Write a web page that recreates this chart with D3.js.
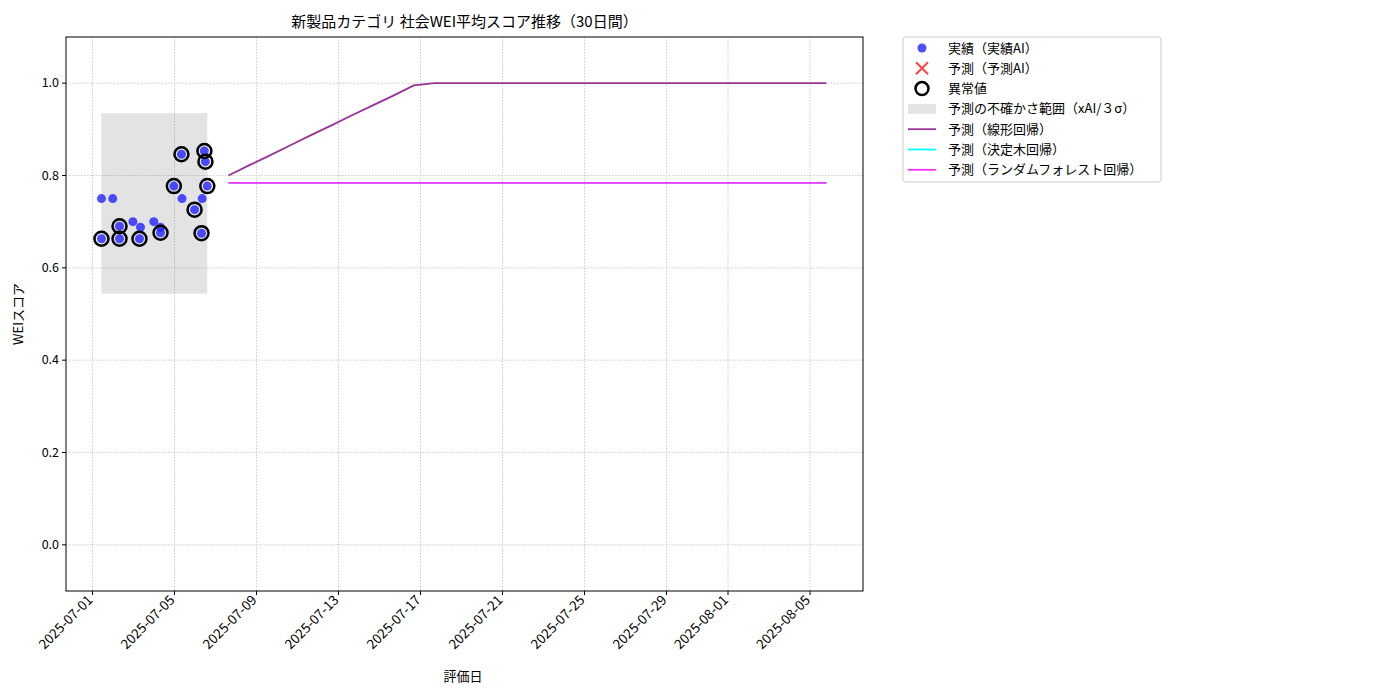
<!DOCTYPE html><html><head><meta charset="utf-8"><script src="https://cdn.jsdelivr.net/npm/d3@7"></script>
<style>body{margin:0;background:#fff;font-family:"Noto Sans CJK JP","DejaVu Sans",sans-serif}</style></head><body><svg id="c" width="1400" height="700"></svg>
<script>
const actualDates=["2025-07-01T10:30","2025-07-01T23:45","2025-07-01T10:30","2025-07-02T07:40","2025-07-02T07:40","2025-07-02T23:20","2025-07-03T08:10","2025-07-03T07:00","2025-07-03T23:45","2025-07-04T07:40","2025-07-04T07:40","2025-07-04T23:15","2025-07-05T08:10","2025-07-05T08:50","2025-07-05T23:30","2025-07-06T08:25","2025-07-06T07:40","2025-07-06T11:00","2025-07-06T12:15","2025-07-06T14:25"];
const actualValues=[0.75,0.75,0.663,0.69,0.663,0.70,0.688,0.663,0.70,0.688,0.676,0.777,0.846,0.75,0.726,0.75,0.675,0.853,0.83,0.777];
const anomaly=[0,0,1,1,1,0,0,1,0,0,1,1,1,0,1,0,1,1,1,1];
const bandStart="2025-07-01T10:30",bandEnd="2025-07-06T14:25",bandLow=0.544,bandHigh=0.935;
const fcStart="2025-07-07T15:10";
const linValues=[0.8,0.822,0.843,0.865,0.887,0.908,0.930,0.952,0.973,0.995,1,1,1,1,1,1,1,1,1,1,1,1,1,1,1,1,1,1,1,1];
const dtValue=0.784,rfValue=0.784;
const yTicks=[0,0.2,0.4,0.6,0.8,1.0];
const xTicks=["2025-07-01","2025-07-05","2025-07-09","2025-07-13","2025-07-17","2025-07-21","2025-07-25","2025-07-29","2025-08-01","2025-08-05"];
const P=d3.timeParse("%Y-%m-%dT%H:%M"),PD=d3.timeParse("%Y-%m-%d");
const fcDates=linValues.map((_,i)=>d3.timeHour.offset(P(fcStart),i*24.15));
const svg=d3.select("#c"),L=66,R=863,T=37,B=591;
const x=d3.scaleTime().domain([d3.timeHour.offset(PD("2025-07-01"),-30.5),d3.timeHour.offset(PD("2025-07-01"),902)]).range([L,R]);
const y=d3.scaleLinear().domain([-0.1,1.1]).range([B,T]);
const g=svg.append("g");
xTicks.forEach(t=>g.append("line").attr("x1",x(PD(t))).attr("x2",x(PD(t))).attr("y1",T).attr("y2",B).attr("stroke","#ccc").attr("stroke-dasharray","1.5,1.5"));
yTicks.forEach(t=>g.append("line").attr("x1",L).attr("x2",R).attr("y1",y(t)).attr("y2",y(t)).attr("stroke","#ccc").attr("stroke-dasharray","1.5,1.5"));
g.append("rect").attr("x",x(P(bandStart))).attr("width",x(P(bandEnd))-x(P(bandStart))).attr("y",y(bandHigh)).attr("height",y(bandLow)-y(bandHigh)).attr("fill","#808080").attr("opacity",0.22);
const ln=d3.line().x(d=>x(d[0])).y(d=>y(d[1]));
g.append("path").attr("d",ln(fcDates.map((d,i)=>[d,dtValue]))).attr("stroke","cyan").attr("fill","none").attr("stroke-width",1.8);
g.append("path").attr("d",ln(fcDates.map((d,i)=>[d,rfValue]))).attr("stroke","#ff33ff").attr("fill","none").attr("stroke-width",1.8);
g.append("path").attr("d",ln(fcDates.map((d,i)=>[d,linValues[i]]))).attr("stroke","#993399").attr("fill","none").attr("stroke-width",1.8);
actualDates.forEach((d,i)=>g.append("circle").attr("cx",x(P(d))).attr("cy",y(actualValues[i])).attr("r",4.5).attr("fill","#2222ff").attr("opacity",0.8));
actualDates.forEach((d,i)=>{if(anomaly[i])g.append("circle").attr("cx",x(P(d))).attr("cy",y(actualValues[i])).attr("r",7).attr("fill","none").attr("stroke","#000").attr("stroke-width",2.5);});
svg.append("rect").attr("x",L).attr("y",T).attr("width",R-L).attr("height",B-T).attr("fill","none").attr("stroke","#000");
yTicks.forEach(t=>{svg.append("line").attr("x1",L-4).attr("x2",L).attr("y1",y(t)).attr("y2",y(t)).attr("stroke","#000");
svg.append("text").attr("x",L-7).attr("y",y(t)+4).attr("text-anchor","end").attr("font-size",12.5).text(t.toFixed(1));});
xTicks.forEach(t=>{const xx=x(PD(t));svg.append("line").attr("x1",xx).attr("x2",xx).attr("y1",B).attr("y2",B+4).attr("stroke","#000");
svg.append("text").attr("transform",`translate(${xx+1},${B+10}) rotate(-45)`).attr("text-anchor","end").attr("font-size",13.5).text(t);});
svg.append("text").attr("x",(L+R)/2-0).attr("y",27).attr("text-anchor","middle").attr("font-size",15).text("新製品カテゴリ 社会WEI平均スコア推移（30日間）");
svg.append("text").attr("x",463).attr("y",681).attr("text-anchor","middle").attr("font-size",13).text("評価日");
svg.append("text").attr("transform",`translate(23,${(T+B)/2}) rotate(-90)`).attr("text-anchor","middle").attr("font-size",13).text("WEIスコア");
const lg=svg.append("g");
lg.append("rect").attr("x",903).attr("y",37).attr("width",258).attr("height",145).attr("fill","#fff").attr("stroke","#ccc").attr("rx",3);
const items=["実績（実績AI）","予測（予測AI）","異常値","予測の不確かさ範囲（xAI/３σ）","予測（線形回帰）","予測（決定木回帰）","予測（ランダムフォレスト回帰）"];
items.forEach((t,i)=>{const yy=48+i*20.3,cx=922;
if(i==0)lg.append("circle").attr("cx",cx).attr("cy",yy).attr("r",4.5).attr("fill","#2222ff").attr("opacity",0.8);
if(i==1){lg.append("path").attr("d",`M${cx-6},${yy-6}L${cx+6},${yy+6}M${cx-6},${yy+6}L${cx+6},${yy-6}`).attr("stroke","#ff4444").attr("stroke-width",2);}
if(i==2)lg.append("circle").attr("cx",cx).attr("cy",yy).attr("r",6.5).attr("fill","none").attr("stroke","#000").attr("stroke-width",2.5);
if(i==3)lg.append("rect").attr("x",cx-14).attr("y",yy-5).attr("width",28).attr("height",10).attr("fill","#808080").attr("opacity",0.22);
if(i>=4)lg.append("line").attr("x1",cx-14).attr("x2",cx+14).attr("y1",yy).attr("y2",yy).attr("stroke",["#993399","cyan","#ff33ff"][i-4]).attr("stroke-width",1.8);
lg.append("text").attr("x",948).attr("y",yy+4.5).attr("font-size",13).text(t);});
</script></body></html>
